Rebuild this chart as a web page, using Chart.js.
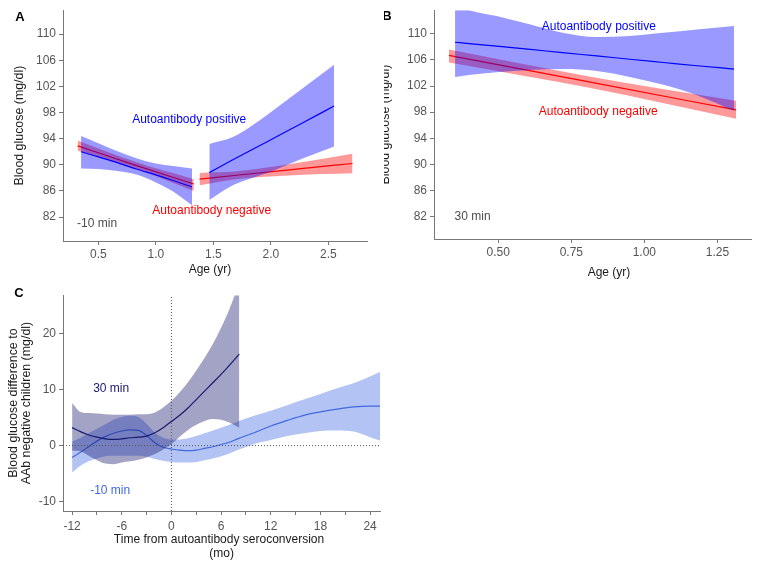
<!DOCTYPE html>
<html>
<head>
<meta charset="utf-8">
<script src="https://cdn.jsdelivr.net/npm/chart.js@4.4.0/dist/chart.umd.min.js"></script>
<style>
  body { margin: 0; background: #fff; }
  #page { position: relative; width: 768px; height: 569px; overflow: hidden; background: #fff; }
  canvas { position: absolute; }
  #wrapB { position: absolute; left: 384px; top: 0; width: 384px; height: 285px; overflow: hidden; }
</style>
</head>
<body>
<div id="page">
  <canvas id="chartA" width="384" height="285" style="left:0;top:0"></canvas>
  <div id="wrapB"><canvas id="chartB" width="392" height="285" style="left:-8px;top:0"></canvas></div>
  <canvas id="chartC" width="400" height="284" style="left:0;top:285px"></canvas>
</div>
<script>
// ---- Panel A: -10 min glucose by age ----
const aPosAge1 = [0.35, 0.5, 0.65, 0.83, 1.0, 1.15, 1.315];
const aPosFit1 = [92.0, 91.2, 90.4, 89.35, 88.45, 87.6, 86.6];
const aPosHi1  = [94.4, 93.3, 92.2, 91.0, 90.2, 89.8, 89.45];
const aPosLo1  = [89.45, 89.35, 89.1, 88.5, 87.3, 85.9, 83.8];

const aPosAge2 = [1.465, 1.674, 1.964, 2.254, 2.55];
const aPosFit2 = [88.8, 90.8, 93.5, 96.2, 99.0];
const aPosHi2  = [93.2, 94.3, 97.6, 101.4, 105.3];
const aPosLo2  = [84.6, 86.9, 88.7, 90.8, 92.8];

const aNegAge1 = [0.32, 0.82, 1.33];
const aNegFit1 = [92.9, 89.95, 87.05];
const aNegHi1  = [93.7, 90.45, 87.8];
const aNegLo1  = [92.15, 89.45, 86.0];

const aNegAge2 = [1.38, 1.7, 2.2, 2.71];
const aNegFit2 = [87.8, 88.4, 89.3, 90.2];
const aNegHi2  = [88.75, 89.0, 90.2, 91.7];
const aNegLo2  = [86.85, 87.8, 88.4, 88.7];

const aTicksX = [0.5, 1.0, 1.5, 2.0, 2.5];
const aTicksY = [82, 86, 90, 94, 98, 102, 106, 110];

// ---- Panel B: 30 min glucose by age ----
const bPosAge = [0.352, 0.40, 0.494, 0.61, 0.72, 0.837, 0.95, 1.065, 1.18, 1.307];
const bPosFit = [108.7, 108.5, 108.1, 107.6, 107.1, 106.6, 106.1, 105.6, 105.1, 104.6];
const bPosHi  = [114.4, 113.6, 112.7, 111.4, 110.15, 109.5, 109.65, 110.15, 110.65, 111.2];
const bPosLo  = [103.4, 103.7, 104.1, 104.45, 104.6, 104.3, 103.4, 102.2, 100.6, 98.2];

const bNegAge = [0.331, 0.82, 1.314];
const bNegFit = [106.7, 102.55, 98.35];
const bNegHi  = [107.6, 103.4, 99.75];
const bNegLo  = [105.6, 101.65, 97.0];

const bTicksX = [0.5, 0.75, 1.0, 1.25];
const bTicksY = [82, 86, 90, 94, 98, 102, 106, 110];

// ---- Panel C: difference to AAb negative children ----
const c30Time = [-12, -11, -10, -9, -8, -7, -6, -5, -4, -3, -2, -1, 0, 1, 2, 3, 4, 5, 6, 7, 8.2];
const c30Fit  = [3.2, 2.5, 1.9, 1.5, 1.2, 1.1, 1.2, 1.4, 1.5, 1.7, 2.3, 3.2, 4.3, 5.4, 6.7, 8.2, 9.7, 11.2, 12.7, 14.3, 16.3];
const c30Hi   = [7.6, 6.0, 5.8, 5.7, 5.6, 5.5, 5.5, 5.5, 5.6, 5.6, 5.9, 6.8, 8.0, 9.5, 11.3, 13.4, 15.6, 18.1, 21.0, 24.3, 29.0];
const c30Lo   = [-0.9, -1.0, -1.8, -2.6, -3.2, -3.3, -3.0, -2.8, -2.5, -2.1, -1.5, -0.7, 0.3, 1.6, 2.8, 3.7, 4.4, 4.75, 4.6, 4.1, 3.2];

const c10Time = [-12, -11, -10, -9, -8, -7, -6, -5, -4, -3, -2, -1, 0, 1, 2, 3, 4, 5, 6, 7, 8, 10, 12, 14, 16, 18, 20, 22, 24, 25.2];
const c10Fit  = [-2.1, -1.2, -0.2, 0.8, 1.6, 2.2, 2.6, 2.8, 2.7, 1.8, 0.5, -0.3, -0.6, -0.8, -0.9, -0.8, -0.5, -0.2, 0.2, 0.6, 1.2, 2.3, 3.5, 4.5, 5.4, 6.0, 6.5, 6.9, 7.05, 7.05];
const c10Hi   = [0.7, 1.4, 2.2, 3.0, 3.8, 4.6, 5.1, 5.3, 5.1, 3.9, 2.3, 1.4, 1.1, 1.1, 1.3, 1.7, 2.2, 2.7, 3.2, 3.7, 4.3, 5.3, 6.2, 7.2, 8.2, 9.2, 10.2, 11.1, 12.3, 13.1];
const c10Lo   = [-4.8, -3.6, -2.8, -2.3, -1.9, -1.8, -1.8, -1.8, -1.8, -2.0, -2.4, -2.7, -2.9, -3.0, -3.0, -2.9, -2.6, -2.3, -1.9, -1.4, -0.8, 0.3, 1.0, 1.7, 2.2, 2.6, 2.7, 2.5, 1.5, 0.9];

const cTicksX = [-12, -9, -6, -3, 0, 3, 6, 9, 12, 15, 18, 21, 24];
const cTicksY = [-10, 0, 10, 20];

// Colours
const BLUE = '#0000ff', BLUE_BAND = 'rgba(0,0,255,0.4)';
const RED = '#ff0000', RED_BAND = 'rgba(255,0,0,0.4)';
const NAVY = '#191970', NAVY_BAND = 'rgba(25,25,112,0.4)';
const ROYAL = '#4169e1', ROYAL_BAND = 'rgba(65,105,225,0.4)';
const axisGrey = '#777777';
const tickGrey = '#555555';
const titleColor = '#1a1a1a';
const FONT = '"Liberation Sans", Arial, Helvetica, sans-serif';

// Build a confidence band (lower + upper filled to lower)
function band(xs, lo, hi, color) {
    return [
        {
            data: xs.map((x, i) => ({ x: x, y: lo[i] })),
            borderColor: 'transparent', borderWidth: 0, pointRadius: 0, fill: false,
            cubicInterpolationMode: 'monotone'
        },
        {
            data: xs.map((x, i) => ({ x: x, y: hi[i] })),
            borderColor: 'transparent', borderWidth: 0, pointRadius: 0, fill: '-1',
            backgroundColor: color, cubicInterpolationMode: 'monotone'
        }
    ];
}

// Fitted line
function fitLine(xs, ys, color) {
    return {
        data: xs.map((x, i) => ({ x: x, y: ys[i] })),
        borderColor: color, borderWidth: 1.2, pointRadius: 0, fill: false,
        cubicInterpolationMode: 'monotone'
    };
}

// Array order = drawing order (first drawn at the bottom)
function stackOrder(datasets) {
    datasets.forEach((d, i) => { d.order = datasets.length - i; });
    return datasets;
}

// Axis setup shared by the three panels (x titles are drawn by textLabels)
function axes(o) {
    return {
        x: {
            type: 'linear', min: o.xMin, max: o.xMax,
            afterBuildTicks: s => { s.ticks = o.xTicks.map(v => ({ value: v })); },
            afterFit: s => { s.height = o.xHeight; },
            ticks: { callback: o.xFormat, color: tickGrey, font: { family: FONT, size: 12 }, padding: o.xTickPad, maxRotation: 0, autoSkip: false },
            grid: { drawOnChartArea: false, tickLength: 4, color: axisGrey },
            border: { color: axisGrey, width: 1 },
            title: { display: false }
        },
        y: {
            type: 'linear', min: o.yMin, max: o.yMax,
            afterBuildTicks: s => { s.ticks = o.yTicks.map(v => ({ value: v })); },
            afterFit: s => { s.width = o.yWidth; },
            ticks: { callback: v => String(v), color: tickGrey, font: { family: FONT, size: 12 }, padding: 3, autoSkip: false },
            grid: { drawOnChartArea: false, tickLength: 4, color: axisGrey },
            border: { color: axisGrey, width: 1 },
            title: {
                display: true, text: o.yTitle, color: titleColor,
                font: { family: FONT, size: 12.4, lineHeight: o.yTitleLH || 1.2 },
                padding: { top: o.yTitlePad, bottom: 0 }
            }
        }
    };
}

// Text annotations drawn in data units, titles and panel letters in canvas pixels
const textLabels = {
    id: 'textLabels',
    afterDraw(chart, args, opts) {
        const ctx = chart.ctx;
        ctx.save();
        ctx.textAlign = 'center';
        ctx.textBaseline = 'middle';
        (opts.items || []).forEach(item => {
            const px = item.px !== undefined ? item.px : chart.scales.x.getPixelForValue(item.x);
            const py = item.py !== undefined ? item.py : chart.scales.y.getPixelForValue(item.y);
            ctx.font = (item.bold ? 'bold ' : '') + (item.size || 12) + 'px ' + FONT;
            ctx.fillStyle = item.color;
            ctx.fillText(item.text, px, py);
        });
        ctx.restore();
    }
};

function makeChart(id, datasets, scales, padding, items) {
    return new Chart(document.getElementById(id), {
        type: 'line',
        data: { datasets: stackOrder(datasets) },
        options: {
            responsive: false,
            animation: false,
            devicePixelRatio: 1,
            layout: { padding: padding },
            plugins: { legend: { display: false }, tooltip: { enabled: false }, textLabels: { items: items } },
            scales: scales
        },
        plugins: [textLabels]
    });
}

// Panel A
makeChart('chartA', [
    ...band(aNegAge1, aNegLo1, aNegHi1, RED_BAND), fitLine(aNegAge1, aNegFit1, RED),
    ...band(aNegAge2, aNegLo2, aNegHi2, RED_BAND), fitLine(aNegAge2, aNegFit2, RED),
    ...band(aPosAge1, aPosLo1, aPosHi1, BLUE_BAND), fitLine(aPosAge1, aPosFit1, BLUE),
    ...band(aPosAge2, aPosLo2, aPosHi2, BLUE_BAND), fitLine(aPosAge2, aPosFit2, BLUE)
], axes({
    xMin: 0.193, xMax: 2.836, xTicks: aTicksX, xFormat: v => v.toFixed(1), xHeight: 44, xTickPad: 2,
    yMin: 78.33, yMax: 113.67, yTicks: aTicksY, yWidth: 63,
    yTitle: 'Blood glucose (mg/dl)', yTitlePad: 12
}), { left: 0, top: 10, right: 17, bottom: 0 }, [
    { text: 'Autoantibody positive', x: 1.29, y: 96.92, color: BLUE },
    { text: 'Autoantibody negative', x: 1.486, y: 82.95, color: RED },
    { text: '-10 min', x: 0.489, y: 80.93, color: '#4d4d4d' },
    { text: 'Age (yr)', px: 210, py: 270, color: titleColor },
    { text: 'A', px: 20, py: 17, color: '#000', bold: true, size: 13 }
]);

// Panel B
makeChart('chartB', [
    ...band(bNegAge, bNegLo, bNegHi, RED_BAND), fitLine(bNegAge, bNegFit, RED),
    ...band(bPosAge, bPosLo, bPosHi, BLUE_BAND), fitLine(bPosAge, bPosFit, BLUE)
], axes({
    xMin: 0.28, xMax: 1.365, xTicks: bTicksX, xFormat: v => v.toFixed(2), xHeight: 46, xTickPad: 2,
    yMin: 78.6, yMax: 113.6, yTicks: bTicksY, yWidth: 58,
    yTitle: 'Blood glucose (mg/dl)', yTitlePad: 2.6
}), { left: 0, top: 9, right: 17, bottom: 0 }, [
    { text: 'Autoantibody positive', x: 0.844, y: 111.05, color: BLUE },
    { text: 'Autoantibody negative', x: 0.842, y: 98.11, color: RED },
    { text: '30 min', x: 0.412, y: 81.95, color: '#4d4d4d' },
    { text: 'Age (yr)', px: 233, py: 272.7, color: titleColor },
    { text: 'B', px: 11, py: 16, color: '#000', bold: true, size: 13 }
]);

// Panel C
const cXMin = -13.1, cXMax = 25.2, cYMin = -11.65, cYMax = 26.8;
const refLine = (pts) => ({
    data: pts, borderColor: '#555555', borderWidth: 1, borderDash: [1, 2],
    pointRadius: 0, fill: false
});
makeChart('chartC', [
    ...band(c10Time, c10Lo, c10Hi, ROYAL_BAND), fitLine(c10Time, c10Fit, ROYAL),
    ...band(c30Time, c30Lo, c30Hi, NAVY_BAND), fitLine(c30Time, c30Fit, NAVY),
    refLine([{ x: cXMin, y: 0 }, { x: cXMax, y: 0 }]),
    refLine([{ x: 0, y: cYMin }, { x: 0, y: cYMax }])
], axes({
    xMin: cXMin, xMax: cXMax, xTicks: cTicksX, xFormat: v => (v % 6 === 0 ? String(v) : ''), xHeight: 58, xTickPad: 4,
    yMin: cYMin, yMax: cYMax, yTicks: cTicksY, yWidth: 63,
    yTitle: ['Blood glucose difference to', 'AAb negative children (mg/dl)'], yTitlePad: 6.85, yTitleLH: 1.07
}), { left: 0, top: 8, right: 20, bottom: 0 }, [
    { text: '30 min', x: -7.28, y: 10.07, color: NAVY },
    { text: '-10 min', x: -7.4, y: -8.1, color: ROYAL },
    { text: 'Time from autoantibody seroconversion', px: 219, py: 254.6, color: titleColor },
    { text: '(mo)', px: 221.7, py: 269, color: titleColor },
    { text: 'C', px: 19, py: 8.5, color: '#000', bold: true, size: 13 }
]);
</script>
</body>
</html>
